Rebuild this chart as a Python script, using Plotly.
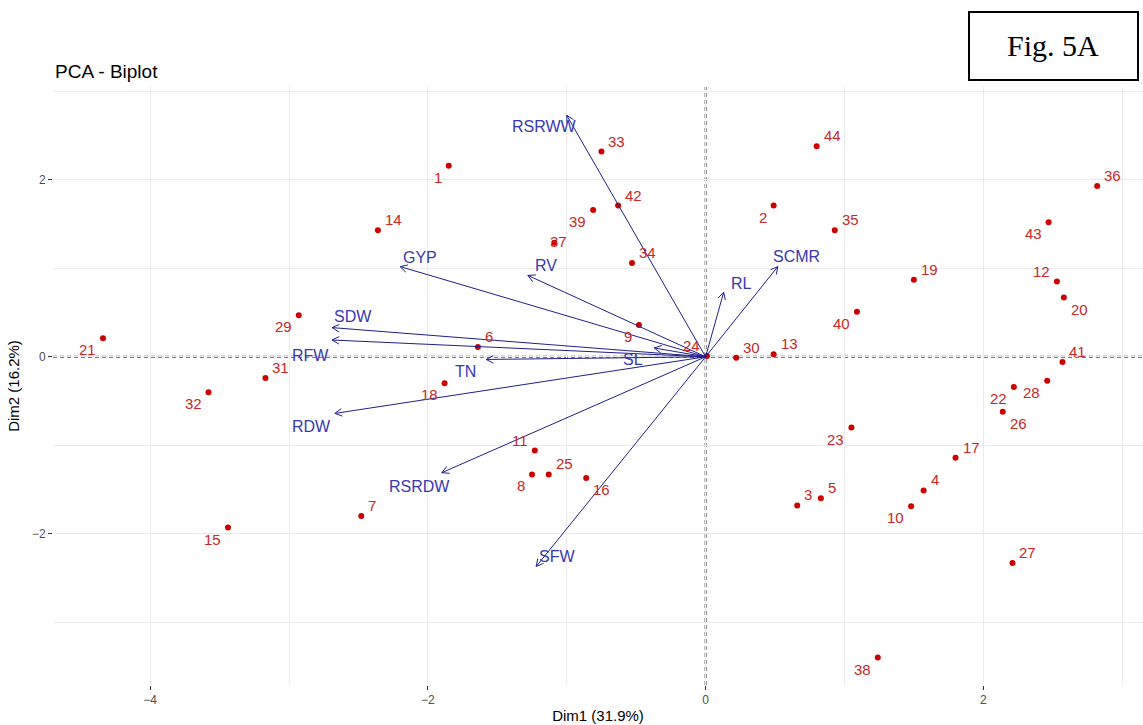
import numpy as np
import plotly.graph_objects as go

# individuals (Dim1, Dim2)
pt_lab = [str(i) for i in range(1, 45)]
pt_x = [-1.85, 0.49, 0.66, 1.57, 0.83, -1.64, -2.48, -1.25, -0.48, 1.48,
        -1.23, 2.53, 0.49, -2.36, -3.44, -0.86, 1.80, -1.88, 1.50, 2.58,
        -4.34, 2.22, 1.05, 0.01, -1.13, 2.14, 2.21, 2.46, -2.93, 0.22,
        -3.17, -3.58, -0.75, -0.53, 0.93, 2.82, -1.09, 1.24, -0.81, 1.09,
        2.57, -0.63, 2.47, 0.80]
pt_y = [2.16, 1.71, -1.68, -1.51, -1.60, 0.11, -1.80, -1.33, 0.36, -1.69,
        -1.06, 0.85, 0.03, 1.43, -1.93, -1.37, -1.14, -0.30, 0.87, 0.67,
        0.21, -0.34, -0.80, 0.01, -1.33, -0.62, -2.33, -0.27, 0.47, -0.01,
        -0.24, -0.40, 2.32, 1.06, 1.43, 1.93, 1.29, -3.40, 1.66, 0.51,
        -0.06, 1.71, 1.52, 2.38]

# variables (arrow tips)
var_lab = ["RSRWW", "GYP", "RV", "SDW", "RFW", "TN", "SL", "RDW", "RSRDW",
           "SFW", "RL", "SCMR"]
var_x = [-1.00, -2.20, -1.28, -2.69, -2.69, -1.58, -0.37, -2.67, -1.90,
         -1.22, 0.13, 0.52]
var_y = [2.73, 1.02, 0.92, 0.33, 0.19, -0.03, 0.10, -0.64, -1.31,
         -2.37, 0.73, 1.02]

x_ticks = [-4, -2, 0, 2]
y_ticks = [-2, 0, 2]

# label placement (style only)
pt_pos = ["BL", "BL", "TR", "TR", "TR", "TR", "TR", "BL", "BL", "BL",
          "TL", "TL", "TR", "TR", "BL", "BR", "TR", "BL", "TR", "BR",
          "BL", "BL", "BL", "TL", "TR", "BR", "TR", "BL", "BL", "TR",
          "TR", "BL", "TR", "TR", "TR", "TR", "C", "BL", "BL", "BL",
          "TR", "TR", "BL", "TR"]
pos_style = {
    "TR": ("left", "bottom", 5, 0),
    "TL": ("right", "bottom", -5, 0),
    "BL": ("right", "top", -5, -1),
    "BR": ("left", "top", 5, -1),
    "C": ("center", "middle", 4, 1),
}
var_shift = [(-22, -11), (20, 9), (18, 10), (21, 11), (-22, -15), (-21, -12),
             (-21, -12), (-23, -13), (-22, -14), (21, 10), (18, 9), (19, 10)]

W, H = 1143, 725
ml, mr, mt, mb = 53, 0, 87, 40
xr = [-4.70, 3.15]
yr = [-3.71, 3.05]
kx = (W - ml - mr) / (xr[1] - xr[0])
ky = (H - mt - mb) / (yr[1] - yr[0])

RED = "#CD0000"
NAVY = "#1F1F8C"
LBLUE = "#3838B0"
FONT = "Liberation Sans, Arial"

# arrow shafts + open heads
ax_, ay_ = [], []
head_len, ang = 8.0, np.radians(28)
for tx, ty in zip(var_x, var_y):
    ax_ += [0, tx, None]
    ay_ += [0, ty, None]
    d = np.array([tx * kx, ty * ky])
    d = d / np.linalg.norm(d)
    b = -d
    for s in (ang, -ang):
        r = np.array([b[0] * np.cos(s) - b[1] * np.sin(s),
                      b[0] * np.sin(s) + b[1] * np.cos(s)]) * head_len
        ax_ += [tx, tx + r[0] / kx, None]
        ay_ += [ty, ty + r[1] / ky, None]

fig = go.Figure()

# dashed reference lines (above the grid, under the marks)
fig.add_shape(type="line", x0=0, x1=0, y0=0, y1=1, xref="x", yref="paper",
              line=dict(color="#505050", width=2, dash="4px,3px"), layer="between")
fig.add_shape(type="line", x0=0, x1=1, y0=0, y1=0, xref="paper", yref="y",
              line=dict(color="#505050", width=2, dash="4px,3px"), layer="between")

fig.add_trace(go.Scatter(
    x=pt_x, y=pt_y, mode="markers",
    marker=dict(color=RED, size=6),
    hoverinfo="skip", showlegend=False
))

fig.add_trace(go.Scatter(
    x=ax_, y=ay_, mode="lines",
    line=dict(color=NAVY, width=1),
    hoverinfo="skip", showlegend=False
))

for lab, px, py, p in zip(pt_lab, pt_x, pt_y, pt_pos):
    xa, ya, dx, dy = pos_style[p]
    fig.add_annotation(x=px, y=py, text=lab, showarrow=False,
                       xanchor=xa, yanchor=ya, xshift=dx, yshift=dy,
                       font=dict(family=FONT, size=15, color="#C62828"))

for lab, tx, ty, (dx, dy) in zip(var_lab, var_x, var_y, var_shift):
    fig.add_annotation(x=tx, y=ty, text=lab, showarrow=False,
                       xshift=dx, yshift=dy,
                       font=dict(family=FONT, size=16, color=LBLUE))

# Fig. 5A box
pw, ph = W - ml - mr, H - mt - mb
fig.add_shape(type="rect", xref="paper", yref="paper",
              x0=(969 - ml) / pw, x1=(1138 - ml) / pw,
              y0=(H - mb - 80) / ph, y1=(H - mb - 12) / ph,
              line=dict(color="black", width=2), fillcolor="white")
fig.add_annotation(xref="paper", yref="paper",
                   x=(1053 - ml) / pw, y=(H - mb - 46) / ph,
                   xanchor="center", yanchor="middle",
                   text="Fig. 5A", showarrow=False,
                   font=dict(family="Liberation Serif, Times New Roman", size=30, color="black"))

# title
fig.add_annotation(xref="paper", yref="paper", x=0, y=(H - mb - 71) / ph,
                   xanchor="left", yanchor="middle", text="PCA - Biplot",
                   showarrow=False,
                   font=dict(family=FONT, size=19, color="black"))

grid = "#EBEBEB"
fig.update_xaxes(range=xr, tickvals=x_ticks, showgrid=True, gridcolor=grid, gridwidth=1,
                 minor=dict(dtick=1, tick0=0, showgrid=True, gridcolor=grid, gridwidth=1),
                 zeroline=False, showline=False, ticks="outside", ticklen=4,
                 tickcolor="#333333", tickfont=dict(family=FONT, size=12, color="#4D4D4D"),
                 title=dict(text="Dim1 (31.9%)", standoff=4,
                            font=dict(family=FONT, size=15, color="black")))
fig.update_yaxes(range=yr, tickvals=y_ticks, showgrid=True, gridcolor=grid, gridwidth=1,
                 minor=dict(dtick=1, tick0=0, showgrid=True, gridcolor=grid, gridwidth=1),
                 zeroline=False, showline=False, ticks="outside", ticklen=4,
                 tickcolor="#333333", tickfont=dict(family=FONT, size=12, color="#4D4D4D"),
                 title=dict(text="Dim2 (16.2%)", standoff=8,
                            font=dict(family=FONT, size=15, color="black")))

fig.update_layout(
    width=W, height=H,
    margin=dict(l=ml, r=mr, t=mt, b=mb, autoexpand=False),
    plot_bgcolor="white", paper_bgcolor="white",
    showlegend=False
)

fig.write_html("out.html", config={"displayModeBar": False},
               post_script="document.body.style.margin='0';")
